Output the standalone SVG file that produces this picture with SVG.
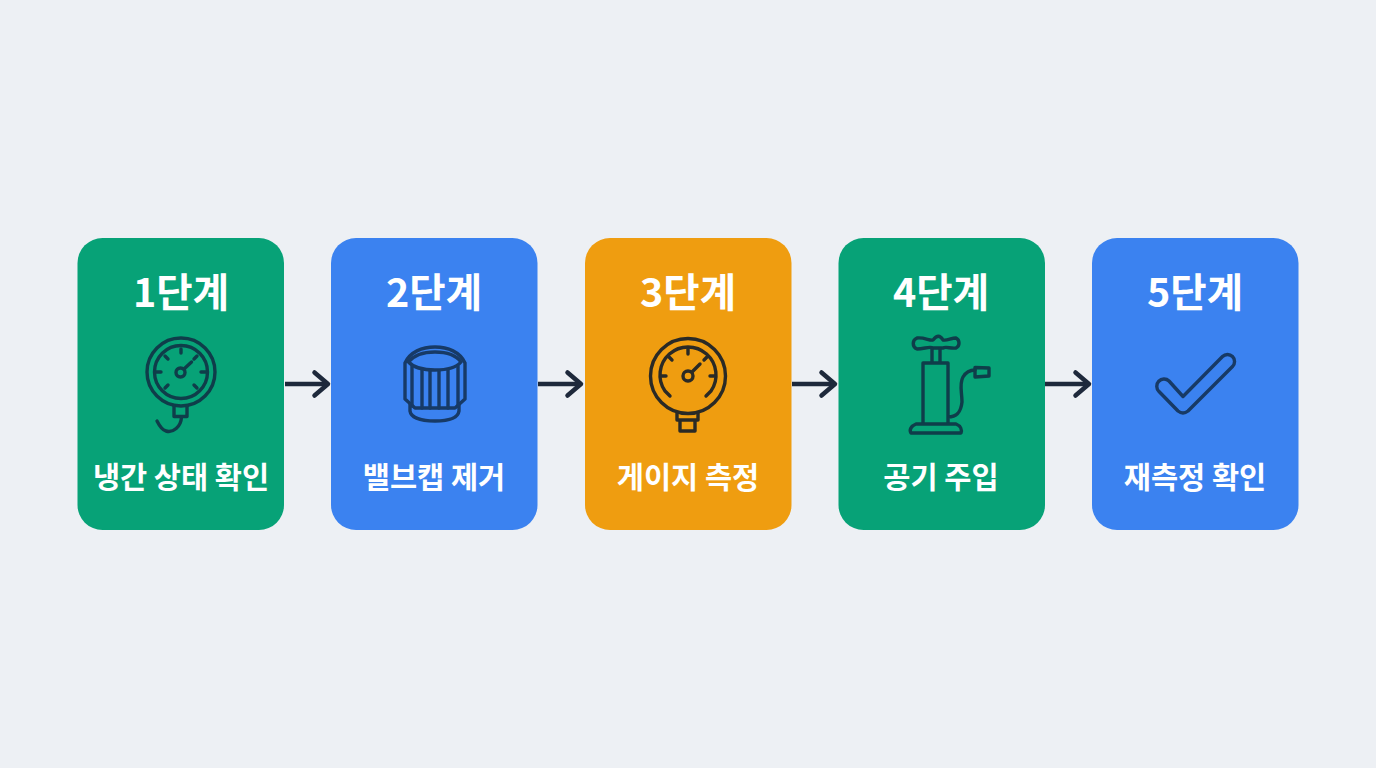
<svg xmlns="http://www.w3.org/2000/svg" width="1376" height="768" viewBox="0 0 1376 768">
<style>
.card{stroke:none}
.green{fill:#07a277}.blue{fill:#3b82f0}.orange{fill:#ef9d10}
text{fill:#fff;text-anchor:middle;font-family:"Noto Sans CJK KR","Noto Sans",sans-serif}
.t{font-size:39.5px;font-weight:700}
.l{font-size:29.5px;font-weight:700}
.i{fill:none;stroke-width:3.4;stroke-linecap:round;stroke-linejoin:round}
.con{fill:none;stroke:#1e293b;stroke-width:4.5;stroke-linejoin:round}
.head{stroke-linecap:round}
</style>
<rect width="1376" height="768" fill="#edf0f4"/>
<g id="connectors">
<path class="con" d="M285 384H327"/><path class="con head" d="M314.500 372.500L328 384L314.500 395.500"/>
<path class="con" d="M538 384H580"/><path class="con head" d="M567.500 372.500L581 384L567.500 395.500"/>
<path class="con" d="M792 384H834"/><path class="con head" d="M821.500 372.500L835 384L821.500 395.500"/>
<path class="con" d="M1045 384H1088"/><path class="con head" d="M1075.500 372.500L1089 384L1075.500 395.500"/>
</g>
<g id="node1">
<rect class="card green" x="77.500" y="238" width="206.500" height="292" rx="25"/>
<text class="t" x="181" y="307">1단계</text>
<g class="i" stroke="#0f3d4a">
<circle cx="181" cy="372" r="34"/><circle cx="181" cy="372" r="26.500"/>
<circle cx="180.500" cy="372.500" r="4.500"/>
<path d="M184 369L191.500 362M181 349V353M156 372H161M206 372H201M165 356L168 359M197 356L194 359M165 388L168 385M197 388L194 385"/>
<path d="M174 406V416.500H187V406M181.500 417C181 427 173 433 166 431C162 430 159 425 157 421"/>
</g>
<text class="l" x="181" y="488">냉간 상태 확인</text>
</g>
<g id="node2">
<rect class="card blue" x="331" y="238" width="206.500" height="292" rx="25"/>
<text class="t" x="434" y="307">2단계</text>
<g class="i" stroke="#173a66">
<path d="M405 363C410 352 422 347 435 347C448 347 460 352 465 363V399L455 408H415L405 399Z"/>
<path d="M408.500 362C414 355 424 352 435 352C446 352 456 355 461 362C456 368 446 370 435 370C424 370 414 368 408.500 362Z"/>
<path d="M412 366V406M422 370V408M430 371V408M439 371V408M448 370V408M458 366V406"/>
<path d="M410 404V411C411 418 422 421 435 421C448 421 458 418 459 411V404"/>
</g>
<text class="l" x="434" y="488">밸브캡 제거</text>
</g>
<g id="node3">
<rect class="card orange" x="585" y="238" width="206.500" height="292" rx="25"/>
<text class="t" x="688" y="307">3단계</text>
<g class="i" stroke="#2a2a26">
<circle cx="688" cy="376" r="37.500"/>
<path d="M670 396L665 391A28 28 0 1 1 711 391L706 396"/>
<circle cx="688" cy="376" r="5"/>
<path d="M692 372L700 364M688 349V354M661 376H666M715 376H710M669 357L672 360M707 357L704 360"/>
<path d="M677 413V420H698V413M680 420V431H695V420"/>
</g>
<text class="l" x="688" y="488">게이지 측정</text>
</g>
<g id="node4">
<rect class="card green" x="838.500" y="238" width="206.500" height="292" rx="25"/>
<text class="t" x="941" y="307">4단계</text>
<g class="i" stroke="#0f3d4a">
<path d="M917 338C924 337 930 341 933 340C937 335 940 335 943 340C947 341 951 338 956 338C960 340 960 346 956 348C951 349 946 346 943 348H933C930 346 924 349 917 349C912 347 912 340 917 338Z"/>
<path d="M932 349V363M940 349V363M923 363H948V423M923 363V423M948 417C958 417 961 411 962 402C962 392 959 384 963 377C966 372 970 370 975 370"/>
<path d="M975 367.500L989 368V376L975 377Z"/>
<path d="M916 424H956C961 426 962 430 961 433H911C909 430 911 426 916 424Z"/>
</g>
<text class="l" x="941" y="488">공기 주입</text>
</g>
<g id="node5">
<rect class="card blue" x="1092" y="238" width="206.500" height="292" rx="25"/>
<text class="t" x="1195" y="307">5단계</text>
<path class="i" stroke="#173a66" d="M1169 381L1183 396.500L1222.500 356.500A7 7 0 0 1 1232.500 366.500L1188 411Q1183 415 1178 411L1159 391.500A7 7 0 0 1 1169 381Z"/>
<text class="l" x="1195" y="488">재측정 확인</text>
</g>
</svg>
